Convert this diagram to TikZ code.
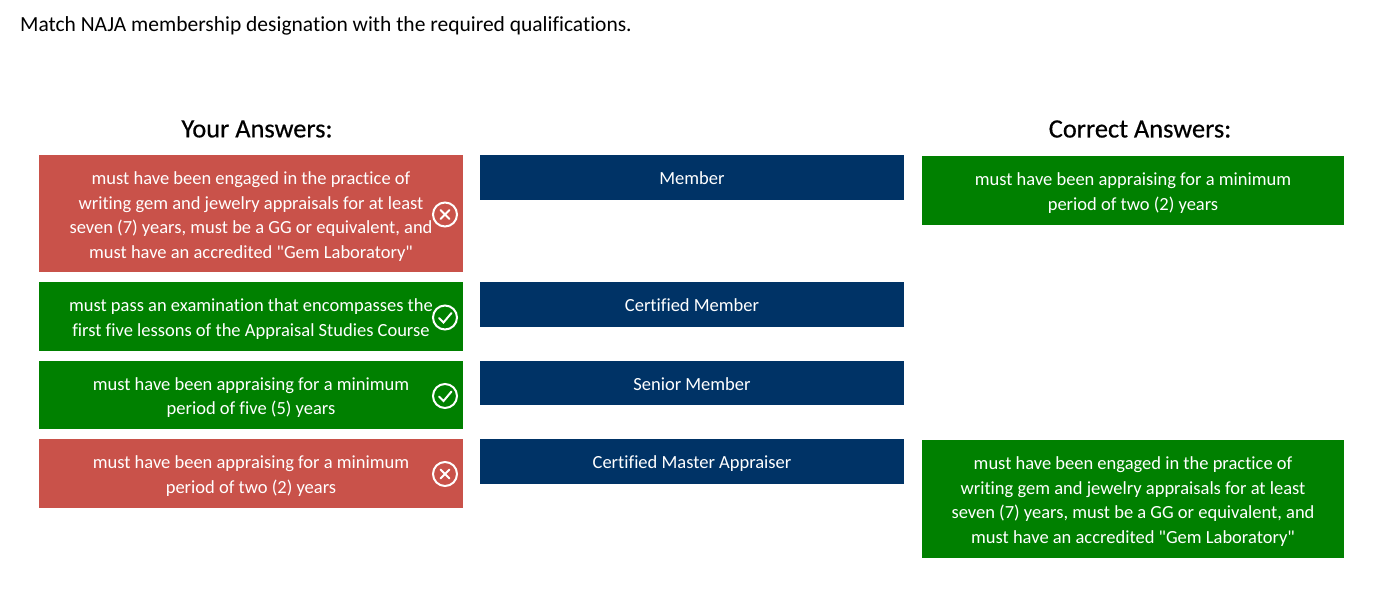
\documentclass[tikz,border=0pt]{standalone}
\usepackage{fontspec}
\setmainfont{Carlito}[Ligatures={TeXOff,NoCommon}]
\newfontfamily\hdfont{Carlito}[FakeBold=0.5,Ligatures=NoCommon]
\definecolor{redbox}{HTML}{C9524A}
\definecolor{greenbox}{HTML}{008000}
\definecolor{navybox}{HTML}{003366}
\tikzset{
  px/.style={x=1pt,y=-1pt},
  ans/.style={inner sep=0pt,text=white,align=center,font=\fontsize{18.5}{24.4}\selectfont},
  hd/.style={inner sep=0pt,font=\hdfont\fontsize{26.4}{28}\selectfont},
  iconline/.style={draw=white,line width=2pt,line cap=round}
}
\newcommand{\xicon}[2]{\draw[iconline] (#1,#2) circle (12);
  \draw[iconline] (#1-4.5,#2-4.5) -- (#1+4.5,#2+4.5) (#1-4.5,#2+4.5) -- (#1+4.5,#2-4.5);}
\newcommand{\okicon}[2]{\draw[iconline] (#1,#2) circle (12);
  \draw[iconline] (#1-6,#2+0.5) -- (#1-1.5,#2+5) -- (#1+6.5,#2-4.5);}
\begin{document}
\begin{tikzpicture}[px]
\useasboundingbox (0,0) rectangle (1398,597);
\fill[white] (0,0) rectangle (1398,597);
\node[inner sep=0pt,anchor=west,font=\fontsize{21.5}{24}\selectfont] (title) at (20,26) {Match NAJA membership designation with the required qualifications.};
\node[hd] (ya) at (257,129) {Your Answers:};
\node[hd] (ca) at (1140,129) {Correct Answers:};
\fill[redbox] (39,155) rectangle (463,272);
\node[ans] (a1) at (251,216.5) {must have been engaged in the practice of\\writing gem and jewelry appraisals for at least\\seven (7) years, must be a GG or equivalent, and\\must have an accredited "Gem Laboratory"};
\fill[greenbox] (39,282) rectangle (463,351);
\node[ans] (a2) at (251,319) {must pass an examination that encompasses the\\first five lessons of the Appraisal Studies Course};
\fill[greenbox] (39,361) rectangle (463,429);
\node[ans] (a3) at (251,397.5) {must have been appraising for a minimum\\period of five (5) years};
\fill[redbox] (39,439) rectangle (463,508);
\node[ans] (a4) at (251,476) {must have been appraising for a minimum\\period of two (2) years};
\xicon{445}{214.5}
\okicon{445}{317.5}
\okicon{445}{396}
\xicon{445}{474}
\fill[navybox] (480,155) rectangle (904,200);
\node[ans] (m1) at (692,178) {Member};
\fill[navybox] (480,282) rectangle (904,327);
\node[ans] (m2) at (692,305) {Certified Member};
\fill[navybox] (480,361) rectangle (904,405);
\node[ans] (m3) at (692,384) {Senior Member};
\fill[navybox] (480,439) rectangle (904,484);
\node[ans] (m4) at (692,464) {Certified Master Appraiser};
\fill[greenbox] (922,156) rectangle (1344,225);
\node[ans] (c1) at (1133,193) {must have been appraising for a minimum\\period of two (2) years};
\fill[greenbox] (922,440) rectangle (1344,558);
\node[ans] (c2) at (1133,501.5) {must have been engaged in the practice of\\writing gem and jewelry appraisals for at least\\seven (7) years, must be a GG or equivalent, and\\must have an accredited "Gem Laboratory"};
\end{tikzpicture}
\end{document}
